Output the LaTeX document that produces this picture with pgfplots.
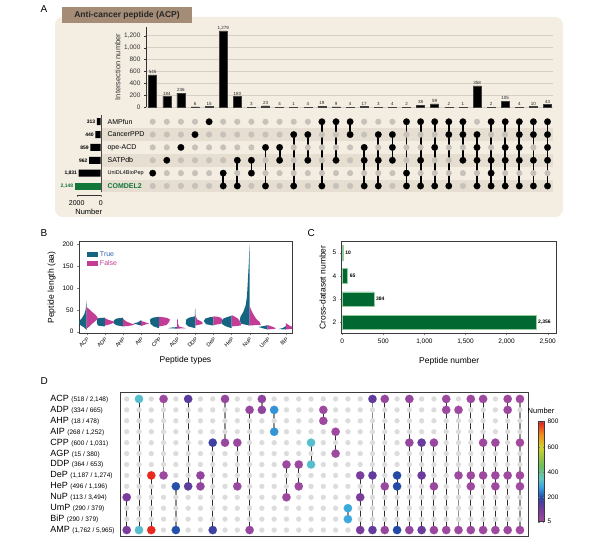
\documentclass[border=0pt]{standalone}
\usepackage{pgfplots}
\pgfplotsset{compat=1.18}
\usepackage{fontspec}
\setmainfont{Liberation Sans}
\setsansfont{Liberation Sans}
\definecolor{beige}{RGB}{243,237,226}
\definecolor{band}{RGB}{229,222,209}
\definecolor{titlebox}{RGB}{165,140,118}
\definecolor{gdotA}{RGB}{198,193,185}
\definecolor{gridA}{RGB}{214,207,195}
\definecolor{greenA}{RGB}{18,120,58}
\definecolor{greenC}{RGB}{0,104,48}
\definecolor{greenCl}{RGB}{150,205,160}
\definecolor{tealB}{RGB}{20,100,130}
\definecolor{magB}{RGB}{195,60,150}
\definecolor{trueTxt}{RGB}{50,100,180}
\definecolor{gdotD}{RGB}{220,220,220}
\definecolor{lineD}{RGB}{50,45,45}
\definecolor{lineDg}{RGB}{140,140,140}
\definecolor{frame}{RGB}{60,60,60}
\newcommand{\fs}[1]{\fontsize{#1}{#1}\selectfont}
\pgfkeys{/pgf/number format/.cd, assume math mode=true, 1000 sep={,}}
\pgfplotsset{
 colormap={dmap}{rgb255(0pt)=(163,75,160) rgb255(95pt)=(120,60,155) rgb255(155pt)=(80,60,160) rgb255(195pt)=(35,75,165) rgb255(275pt)=(55,165,225) rgb255(345pt)=(100,200,195) rgb255(445pt)=(110,190,90) rgb255(595pt)=(210,210,40) rgb255(695pt)=(240,140,30) rgb255(795pt)=(230,30,30)},
 blk/.style={black, line width=1.8pt, mark=*, mark size=3.3pt, mark options={line width=0.1pt}},
 dcol/.style={lineD, line width=0.9pt, scatter, mark=*, mark size=4.2pt, point meta=explicit, mark options={line width=0.1pt}, scatter/use mapped color={draw=mapped color, fill=mapped color}},
 dcolg/.style={dcol, lineDg, line width=1.4pt},
}
\begin{document}
\begin{tikzpicture}
\path[use as bounding box] (0pt,0pt) rectangle (601pt,544pt);
% ---------------- Panel A ----------------
\fill[beige, rounded corners=8pt] (55pt,327pt) rectangle (563pt,527pt);
\fill[titlebox] (62pt,521pt) rectangle (192pt,537pt);
\node[font=\fs{8.5}\bfseries, text=black!85] at (127pt,529pt) {Anti-cancer peptide (ACP)};
\node[font=\fs{10}, anchor=base west] at (37pt,531pt) {A};

% matrix
\begin{axis}[at={(101.7pt,428.7pt)}, anchor=north west, scale only axis, width=451.3pt, height=77.1pt,
  xmin=-2.617, xmax=29.39, ymin=0.5, ymax=6.5, hide axis, clip=false]
\fill[band] (axis cs:-2.617,4.5) rectangle (axis cs:29.39,5.5);
\fill[band] (axis cs:-2.617,2.5) rectangle (axis cs:29.39,3.5);
\fill[band] (axis cs:-2.617,0.5) rectangle (axis cs:29.39,1.5);
\addplot[only marks, mark=*, mark size=2.8pt, color=gdotA] coordinates {(1,6)(2,6)(3,6)(4,6)(5,6)(6,6)(7,6)(8,6)(9,6)(10,6)(11,6)(12,6)(13,6)(14,6)(15,6)(16,6)(17,6)(18,6)(19,6)(20,6)(21,6)(22,6)(23,6)(24,6)(25,6)(26,6)(27,6)(28,6)(29,6)
(1,5)(2,5)(3,5)(4,5)(5,5)(6,5)(7,5)(8,5)(9,5)(10,5)(11,5)(12,5)(13,5)(14,5)(15,5)(16,5)(17,5)(18,5)(19,5)(20,5)(21,5)(22,5)(23,5)(24,5)(25,5)(26,5)(27,5)(28,5)(29,5)
(1,4)(2,4)(3,4)(4,4)(5,4)(6,4)(7,4)(8,4)(9,4)(10,4)(11,4)(12,4)(13,4)(14,4)(15,4)(16,4)(17,4)(18,4)(19,4)(20,4)(21,4)(22,4)(23,4)(24,4)(25,4)(26,4)(27,4)(28,4)(29,4)
(1,3)(2,3)(3,3)(4,3)(5,3)(6,3)(7,3)(8,3)(9,3)(10,3)(11,3)(12,3)(13,3)(14,3)(15,3)(16,3)(17,3)(18,3)(19,3)(20,3)(21,3)(22,3)(23,3)(24,3)(25,3)(26,3)(27,3)(28,3)(29,3)
(1,2)(2,2)(3,2)(4,2)(5,2)(6,2)(7,2)(8,2)(9,2)(10,2)(11,2)(12,2)(13,2)(14,2)(15,2)(16,2)(17,2)(18,2)(19,2)(20,2)(21,2)(22,2)(23,2)(24,2)(25,2)(26,2)(27,2)(28,2)(29,2)
(1,1)(2,1)(3,1)(4,1)(5,1)(6,1)(7,1)(8,1)(9,1)(10,1)(11,1)(12,1)(13,1)(14,1)(15,1)(16,1)(17,1)(18,1)(19,1)(20,1)(21,1)(22,1)(23,1)(24,1)(25,1)(26,1)(27,1)(28,1)(29,1)};
\addplot[blk] coordinates {(1,2)};
\addplot[blk] coordinates {(2,3)};
\addplot[blk] coordinates {(3,4)};
\addplot[blk] coordinates {(4,5)};
\addplot[blk] coordinates {(5,6)};
\addplot[blk] coordinates {(6,2)(6,1)};
\addplot[blk] coordinates {(7,3)(7,1)};
\addplot[blk] coordinates {(8,3)(8,2)};
\addplot[blk] coordinates {(9,4)(9,1)};
\addplot[blk] coordinates {(10,4)(10,3)};
\addplot[blk] coordinates {(11,5)(11,1)};
\addplot[blk] coordinates {(12,5)(12,3)};
\addplot[blk] coordinates {(13,6)(13,1)};
\addplot[blk] coordinates {(14,6)(14,3)};
\addplot[blk] coordinates {(15,6)(15,5)};
\addplot[blk] coordinates {(16,4)(16,3)(16,1)};
\addplot[blk] coordinates {(17,5)(17,3)(17,1)};
\addplot[blk] coordinates {(18,5)(18,4)(18,3)};
\addplot[blk] coordinates {(19,6)(19,2)(19,1)};
\addplot[blk] coordinates {(20,6)(20,3)(20,1)};
\addplot[blk] coordinates {(21,6)(21,4)(21,1)};
\addplot[blk] coordinates {(22,6)(22,5)(22,1)};
\addplot[blk] coordinates {(23,6)(23,5)(23,3)};
\addplot[blk] coordinates {(24,5)(24,4)(24,3)(24,1)};
\addplot[blk] coordinates {(25,6)(25,3)(25,2)(25,1)};
\addplot[blk] coordinates {(26,6)(26,4)(26,3)(26,1)};
\addplot[blk] coordinates {(27,6)(27,5)(27,4)(27,3)(27,1)};
\addplot[blk] coordinates {(28,6)(28,5)(28,3)(28,1)};
\addplot[blk] coordinates {(29,6)(29,5)(29,4)(29,3)(29,1)};
\node[anchor=west, font=\fs{7}] at (axis cs:-2.45,6) {AMPfun};
\node[anchor=west, font=\fs{7}] at (axis cs:-2.45,5) {CancerPPD};
\node[anchor=west, font=\fs{7}] at (axis cs:-2.45,4) {ope-ACD};
\node[anchor=west, font=\fs{7}] at (axis cs:-2.45,3) {SATPdb};
\node[anchor=west, font=\fs{5.5}] at (axis cs:-2.45,2) {UniDL4BioPep};
\node[anchor=west, font=\fs{7}\bfseries, text=greenA] at (axis cs:-2.45,1) {COMDEL2};
\end{axis}

% intersection bars
\begin{axis}[at={(146pt,436.7pt)}, anchor=south west, scale only axis, width=407pt, height=80.6pt,
  xmin=0.525, xmax=29.39, ymin=0, ymax=1351, axis x line=none, axis y line*=left,
  y axis line style={-, black!80, line width=0.5pt},
  ytick={0,200,...,1200}, ymajorgrids, grid style={gridA, line width=0.5pt},
  tick align=outside, major tick length=2pt, tick style={black!80},
  yticklabel style={font=\fs{6.5}, text=black!80},
  ylabel={Intersection number}, ylabel style={font=\fs{7.5}, text=black!80, yshift=-3pt},
  ybar, bar width=8pt, clip=false,
  nodes near coords, every node near coord/.append style={font=\fs{4.5}, inner sep=1pt, text=black!85}]
\addplot[fill=black, draw=black!75, line width=0.5pt] coordinates {(1,545)(2,184)(3,236)(4,6)(5,15)(6,1279)(7,183)(8,3)(9,23)(10,4)(11,1)(12,4)(13,19)(14,9)(15,4)(16,17)(17,3)(18,4)(19,2)(20,38)(21,59)(22,2)(23,1)(24,358)(25,2)(26,105)(27,4)(28,10)(29,43)};
\end{axis}

% set sizes
\begin{axis}[at={(100.7pt,428.7pt)}, anchor=north east, scale only axis, width=24pt, height=79.7pt,
  x dir=reverse, xmin=0, xmax=2000, ymin=0.3, ymax=6.5, xbar, bar width=7pt, bar shift=0pt,
  axis y line=none, axis x line*=bottom, x axis line style={-, black!80, line width=0.5pt},
  xtick={0,2000}, xticklabels={0,2000}, tick align=outside, major tick length=2pt,
  xticklabel style={font=\fs{7}}, xlabel={Number}, xlabel style={font=\fs{7.5}, yshift=3pt},
  clip=false, nodes near coords,
  every node near coord/.append style={anchor=east, font=\fs{5}\bfseries, inner sep=1.5pt}]
\addplot[fill=black, draw=none, bar shift=0pt] coordinates {(313,6)(440,5)(859,4)(962,3)(1831,2)};
\addplot[fill=greenA, draw=none, bar shift=0pt, every node near coord/.append style={text=greenA}] coordinates {(2148,1)};
\draw[black!70, line width=0.4pt] (axis cs:0,0.5) -- (axis cs:0,6.5);
\end{axis}

% ---------------- Panel B ----------------
\node[font=\fs{10}, anchor=base west] at (37pt,308pt) {B};
\begin{axis}[at={(79pt,302.3pt)}, anchor=north west, scale only axis, width=213pt, height=91.6pt,
  xmin=0.575, xmax=12.34, ymin=-3.65, ymax=205.2,
  xtick={1,...,12}, xticklabels={ACP,ADP,AHP,AIP,CPP,AGP,DDP,DeP,HeP,NuP,UmP,BiP},
  xticklabel style={rotate=45, anchor=north east, font=\fs{5.5}, inner sep=1pt},
  ytick={0,50,...,200}, yticklabel style={font=\fs{6.5}},
  tick align=outside, major tick length=2pt, xtick pos=bottom, ytick pos=left,
  ylabel={Peptide length (aa)}, xlabel={Peptide types}, label style={font=\fs{8.5}},
  xlabel style={yshift=-3pt},
  axis line style={frame, line width=0.6pt},
  legend style={at={(axis cs:0.95,190)}, anchor=north west, draw=none, fill=none, font=\fs{7}, row sep=-1.5pt, inner sep=1pt},
  legend cell align=left,
  legend image code/.code={\fill[#1] (0pt,-2.6pt) rectangle (11pt,2.6pt);}]
\addplot[fill=tealB, draw=none] coordinates {(1,4)(0.85,10)(0.65,15)(0.58,21)(0.63,26)(0.74,31)(0.87,40)(0.94,50)(0.97,60)(1,72)};
\addlegendentry{\textcolor{trueTxt}{True}}
\addplot[fill=magB, draw=none] coordinates {(1,7)(1.15,12)(1.3,18)(1.5,25)(1.62,31)(1.5,38)(1.3,45)(1.12,52)(1,56)};
\addlegendentry{\textcolor{magB}{False}}
\addplot[fill=tealB, draw=none, forget plot] coordinates {(2,12)(1.62,14)(1.56,20)(1.57,28)(1.66,31)(2,32)};
\addplot[fill=tealB, draw=none, forget plot] coordinates {(3,12)(2.62,15)(2.47,20)(2.5,26)(2.65,30)(3,32)};
\addplot[fill=tealB, draw=none, forget plot] coordinates {(4,14)(3.75,17)(3.58,19)(3.8,21)(3.97,25)(4,27)};
\addplot[fill=tealB, draw=none, forget plot] coordinates {(5,8)(4.7,12)(4.52,18)(4.5,28)(4.65,32)(5,34)};
\addplot[fill=tealB, draw=none, forget plot] coordinates {(6,7)(5.5,8)(5.7,9.5)(6,10.5)};
\addplot[fill=tealB, draw=none, forget plot] coordinates {(7,8)(6.62,12)(6.47,18)(6.5,28)(6.65,32)(6.97,35)(6.98,45)(7,53)};
\addplot[fill=tealB, draw=none, forget plot] coordinates {(8,14)(7.6,17)(7.47,24)(7.55,30)(7.8,33)(8,34)};
\addplot[fill=tealB, draw=none, forget plot] coordinates {(9,8)(8.7,12)(8.45,18)(8.43,24)(8.55,30)(8.8,34)(9,36)};
\addplot[fill=tealB, draw=none, forget plot] coordinates {(10,14)(9.55,18)(9.45,25)(9.5,35)(9.65,45)(9.78,60)(9.85,80)(9.88,100)(9.92,130)(9.96,160)(9.98,185)(10,200)};
\addplot[fill=tealB, draw=none, forget plot] coordinates {(11,5)(10.7,8)(10.5,11)(10.8,13)(11,15)};
\addplot[fill=tealB, draw=none, forget plot] coordinates {(12,5)(11.6,6)(11.8,8)(11.95,11)(12,13)};
\addplot[fill=magB, draw=none, forget plot] coordinates {(2,14)(2.3,17)(2.52,21)(2.45,24)(2.2,27)(2.05,30)(2,31)};
\addplot[fill=magB, draw=none, forget plot] coordinates {(3,12)(3.45,14)(3.65,16)(3.45,19)(3.2,23)(3.05,28)(3,30)};
\addplot[fill=magB, draw=none, forget plot] coordinates {(4,13)(4.3,17)(4.45,19)(4.25,21)(4.05,24)(4,26)};
\addplot[fill=magB, draw=none, forget plot] coordinates {(5,12)(5.4,15)(5.55,22)(5.6,28)(5.4,32)(5,34)};
\addplot[fill=magB, draw=none, forget plot] coordinates {(6,7)(6.5,8)(6.3,9.5)(6.1,12)(6.05,18)(6.03,27)(6,29)};
\addplot[fill=magB, draw=none, forget plot] coordinates {(7,14)(7.35,17)(7.42,20)(7.3,24)(7.1,28)(7.03,35)(7,40)};
\addplot[fill=magB, draw=none, forget plot] coordinates {(8,15)(8.4,18)(8.48,25)(8.45,31)(8.25,34)(8,35)};
\addplot[fill=magB, draw=none, forget plot] coordinates {(9,12)(9.5,14)(9.53,18)(9.45,24)(9.35,30)(9.15,35)(9,38)};
\addplot[fill=magB, draw=none, forget plot] coordinates {(10,14)(10.62,16)(10.55,22)(10.35,30)(10.2,40)(10.08,50)(10,58)};
\addplot[fill=magB, draw=none, forget plot] coordinates {(11,5)(11.45,7)(11.35,10)(11.15,13)(11,15)};
\addplot[fill=magB, draw=none, forget plot] coordinates {(12,5)(12.45,7)(12.4,10)(12.2,14)(12.05,18)(12,20)};
\end{axis}

% ---------------- Panel C ----------------
\node[font=\fs{10}, anchor=base west] at (304pt,308pt) {C};
\begin{axis}[at={(341.7pt,302.3pt)}, anchor=north west, scale only axis, width=215pt, height=91.6pt,
  xmin=-7, xmax=2610, ymin=1.526, ymax=5.474, xbar, bar width=14.5pt,
  ytick={2,3,4,5}, xtick={0,500,...,2500},
  tick align=outside, major tick length=2pt, xtick pos=bottom, ytick pos=left,
  ticklabel style={font=\fs{6.5}},
  ylabel={Cross-dataset number}, xlabel={Peptide number}, label style={font=\fs{8.5}},
  xlabel style={yshift=-6pt},
  axis line style={frame, line width=0.6pt},
  nodes near coords, every node near coord/.append style={font=\fs{5}\bfseries, inner sep=2pt}]
\addplot[fill=greenC, draw=greenCl, line width=0.6pt] coordinates {(2356,2)(384,3)(65,4)(10,5)};
\end{axis}

% ---------------- Panel D ----------------
\node[font=\fs{10}, anchor=base west] at (37pt,160pt) {D};
\begin{axis}[at={(120pt,151.7pt)}, anchor=north west, scale only axis, width=408.3pt, height=144.4pt,
  xmin=0.455, xmax=33.68, ymin=0.39, ymax=13.61, y dir=reverse, xtick=\empty, ytick=\empty,
  axis line style={frame, line width=0.9pt}, clip=false,
  colormap name=dmap, point meta min=5, point meta max=800,
  colorbar, colorbar style={at={(parent axis.north east)}, anchor=north west, xshift=1.2pt, yshift=-29.4pt,
    scale only axis, width=6pt, height=100pt, ytick={5,200,400,600,800},
    yticklabel style={font=\fs{6.5}}, title={Number}, title style={font=\fs{7.5}, yshift=-1pt},
    axis line style={frame, line width=0.5pt}, major tick length=1.5pt}]
\addplot[only marks, mark=*, mark size=2.4pt, color=gdotD] coordinates {
(1,1)(2,1)(3,1)(4,1)(5,1)(6,1)(7,1)(8,1)(9,1)(10,1)(11,1)(12,1)(13,1)(14,1)(15,1)(16,1)(17,1)(18,1)(19,1)(20,1)(21,1)(22,1)(23,1)(24,1)(25,1)(26,1)(27,1)(28,1)(29,1)(30,1)(31,1)(32,1)(33,1)
(1,2)(2,2)(3,2)(4,2)(5,2)(6,2)(7,2)(8,2)(9,2)(10,2)(11,2)(12,2)(13,2)(14,2)(15,2)(16,2)(17,2)(18,2)(19,2)(20,2)(21,2)(22,2)(23,2)(24,2)(25,2)(26,2)(27,2)(28,2)(29,2)(30,2)(31,2)(32,2)(33,2)
(1,3)(2,3)(3,3)(4,3)(5,3)(6,3)(7,3)(8,3)(9,3)(10,3)(11,3)(12,3)(13,3)(14,3)(15,3)(16,3)(17,3)(18,3)(19,3)(20,3)(21,3)(22,3)(23,3)(24,3)(25,3)(26,3)(27,3)(28,3)(29,3)(30,3)(31,3)(32,3)(33,3)
(1,4)(2,4)(3,4)(4,4)(5,4)(6,4)(7,4)(8,4)(9,4)(10,4)(11,4)(12,4)(13,4)(14,4)(15,4)(16,4)(17,4)(18,4)(19,4)(20,4)(21,4)(22,4)(23,4)(24,4)(25,4)(26,4)(27,4)(28,4)(29,4)(30,4)(31,4)(32,4)(33,4)
(1,5)(2,5)(3,5)(4,5)(5,5)(6,5)(7,5)(8,5)(9,5)(10,5)(11,5)(12,5)(13,5)(14,5)(15,5)(16,5)(17,5)(18,5)(19,5)(20,5)(21,5)(22,5)(23,5)(24,5)(25,5)(26,5)(27,5)(28,5)(29,5)(30,5)(31,5)(32,5)(33,5)
(1,6)(2,6)(3,6)(4,6)(5,6)(6,6)(7,6)(8,6)(9,6)(10,6)(11,6)(12,6)(13,6)(14,6)(15,6)(16,6)(17,6)(18,6)(19,6)(20,6)(21,6)(22,6)(23,6)(24,6)(25,6)(26,6)(27,6)(28,6)(29,6)(30,6)(31,6)(32,6)(33,6)
(1,7)(2,7)(3,7)(4,7)(5,7)(6,7)(7,7)(8,7)(9,7)(10,7)(11,7)(12,7)(13,7)(14,7)(15,7)(16,7)(17,7)(18,7)(19,7)(20,7)(21,7)(22,7)(23,7)(24,7)(25,7)(26,7)(27,7)(28,7)(29,7)(30,7)(31,7)(32,7)(33,7)
(1,8)(2,8)(3,8)(4,8)(5,8)(6,8)(7,8)(8,8)(9,8)(10,8)(11,8)(12,8)(13,8)(14,8)(15,8)(16,8)(17,8)(18,8)(19,8)(20,8)(21,8)(22,8)(23,8)(24,8)(25,8)(26,8)(27,8)(28,8)(29,8)(30,8)(31,8)(32,8)(33,8)
(1,9)(2,9)(3,9)(4,9)(5,9)(6,9)(7,9)(8,9)(9,9)(10,9)(11,9)(12,9)(13,9)(14,9)(15,9)(16,9)(17,9)(18,9)(19,9)(20,9)(21,9)(22,9)(23,9)(24,9)(25,9)(26,9)(27,9)(28,9)(29,9)(30,9)(31,9)(32,9)(33,9)
(1,10)(2,10)(3,10)(4,10)(5,10)(6,10)(7,10)(8,10)(9,10)(10,10)(11,10)(12,10)(13,10)(14,10)(15,10)(16,10)(17,10)(18,10)(19,10)(20,10)(21,10)(22,10)(23,10)(24,10)(25,10)(26,10)(27,10)(28,10)(29,10)(30,10)(31,10)(32,10)(33,10)
(1,11)(2,11)(3,11)(4,11)(5,11)(6,11)(7,11)(8,11)(9,11)(10,11)(11,11)(12,11)(13,11)(14,11)(15,11)(16,11)(17,11)(18,11)(19,11)(20,11)(21,11)(22,11)(23,11)(24,11)(25,11)(26,11)(27,11)(28,11)(29,11)(30,11)(31,11)(32,11)(33,11)
(1,12)(2,12)(3,12)(4,12)(5,12)(6,12)(7,12)(8,12)(9,12)(10,12)(11,12)(12,12)(13,12)(14,12)(15,12)(16,12)(17,12)(18,12)(19,12)(20,12)(21,12)(22,12)(23,12)(24,12)(25,12)(26,12)(27,12)(28,12)(29,12)(30,12)(31,12)(32,12)(33,12)
(1,13)(2,13)(3,13)(4,13)(5,13)(6,13)(7,13)(8,13)(9,13)(10,13)(11,13)(12,13)(13,13)(14,13)(15,13)(16,13)(17,13)(18,13)(19,13)(20,13)(21,13)(22,13)(23,13)(24,13)(25,13)(26,13)(27,13)(28,13)(29,13)(30,13)(31,13)(32,13)(33,13)};
\addplot[dcol] coordinates {(1,10)[95](1,13)[95]};
\addplot[dcol] coordinates {(2,1)[330](2,13)[330]};
\addplot[dcol] coordinates {(3,8)[790](3,13)[790]};
\addplot[dcolg] coordinates {(4,1)[20](4,8)[20]};
\addplot[dcolg] coordinates {(5,9)[205](5,13)[205]};
\addplot[dcol] coordinates {(6,1)[140](6,9)[140]};
\addplot[dcolg] coordinates {(7,8)[45](7,9)[45]};
\addplot[dcol] coordinates {(8,5)[175](8,13)[175]};
\addplot[dcolg] coordinates {(9,1)[30](9,5)[30]};
\addplot[dcol] coordinates {(10,5)[25](10,9)[25]};
\addplot[dcol] coordinates {(11,2)[30](11,13)[30]};
\addplot[dcolg] coordinates {(12,1)[50](12,2)[50]};
\addplot[dcolg] coordinates {(13,2)[265](13,4)[265]};
\addplot[dcol] coordinates {(14,7)[20](14,10)[20]};
\addplot[dcol] coordinates {(15,7)[20](15,9)[20]};
\addplot[dcol] coordinates {(16,5)[330](16,7)[330]};
\addplot[dcol] coordinates {(17,2)[15](17,3)[15]};
\addplot[dcol] coordinates {(18,4)[15](18,6)[15]};
\addplot[dcolg] coordinates {(19,11)[290](19,12)[290]};
\addplot[dcol] coordinates {(20,8)[95](20,10)[95](20,13)[95]};
\addplot[dcolg] coordinates {(21,1)[135](21,8)[135](21,13)[135]};
\addplot[dcol] coordinates {(22,1)[30](22,9)[30](22,13)[30]};
\addplot[dcol] coordinates {(23,8)[200](23,9)[200](23,13)[200]};
\addplot[dcol] coordinates {(24,1)[30](24,5)[30](24,13)[30]};
\addplot[dcol] coordinates {(25,5)[120](25,8)[120](25,13)[120]};
\addplot[dcol] coordinates {(26,5)[25](26,9)[25](26,13)[25]};
\addplot[dcol] coordinates {(27,1)[20](27,2)[20](27,13)[20]};
\addplot[dcolg] coordinates {(28,2)[20](28,8)[20](28,13)[20]};
\addplot[dcol] coordinates {(29,1)[20](29,8)[20](29,9)[20](29,13)[20]};
\addplot[dcol] coordinates {(30,1)[15](30,5)[15](30,8)[15](30,13)[15]};
\addplot[dcol] coordinates {(31,5)[15](31,8)[15](31,9)[15](31,13)[15]};
\addplot[dcol] coordinates {(32,1)[15](32,2)[15](32,8)[15](32,13)[15]};
\addplot[dcolg] coordinates {(33,1)[10](33,5)[10](33,8)[10](33,9)[10](33,13)[10]};
\node[anchor=west] at (axis cs:-5.5,1) {\fs{9}ACP \fs{6.5}(518 / 2,148)};
\node[anchor=west] at (axis cs:-5.5,2) {\fs{9}ADP \fs{6.5}(334 / 665)};
\node[anchor=west] at (axis cs:-5.5,3) {\fs{9}AHP \fs{6.5}(18 / 478)};
\node[anchor=west] at (axis cs:-5.5,4) {\fs{9}AIP \fs{6.5}(268 / 1,252)};
\node[anchor=west] at (axis cs:-5.5,5) {\fs{9}CPP \fs{6.5}(600 / 1,031)};
\node[anchor=west] at (axis cs:-5.5,6) {\fs{9}AGP \fs{6.5}(15 / 380)};
\node[anchor=west] at (axis cs:-5.5,7) {\fs{9}DDP \fs{6.5}(364 / 653)};
\node[anchor=west] at (axis cs:-5.5,8) {\fs{9}DeP \fs{6.5}(1,187 / 1,274)};
\node[anchor=west] at (axis cs:-5.5,9) {\fs{9}HeP \fs{6.5}(496 / 1,196)};
\node[anchor=west] at (axis cs:-5.5,10) {\fs{9}NuP \fs{6.5}(113 / 3,494)};
\node[anchor=west] at (axis cs:-5.5,11) {\fs{9}UmP \fs{6.5}(290 / 379)};
\node[anchor=west] at (axis cs:-5.5,12) {\fs{9}BiP \fs{6.5}(290 / 379)};
\node[anchor=west] at (axis cs:-5.5,13) {\fs{9}AMP \fs{6.5}(1,762 / 5,965)};
\end{axis}
\end{tikzpicture}
\end{document}
